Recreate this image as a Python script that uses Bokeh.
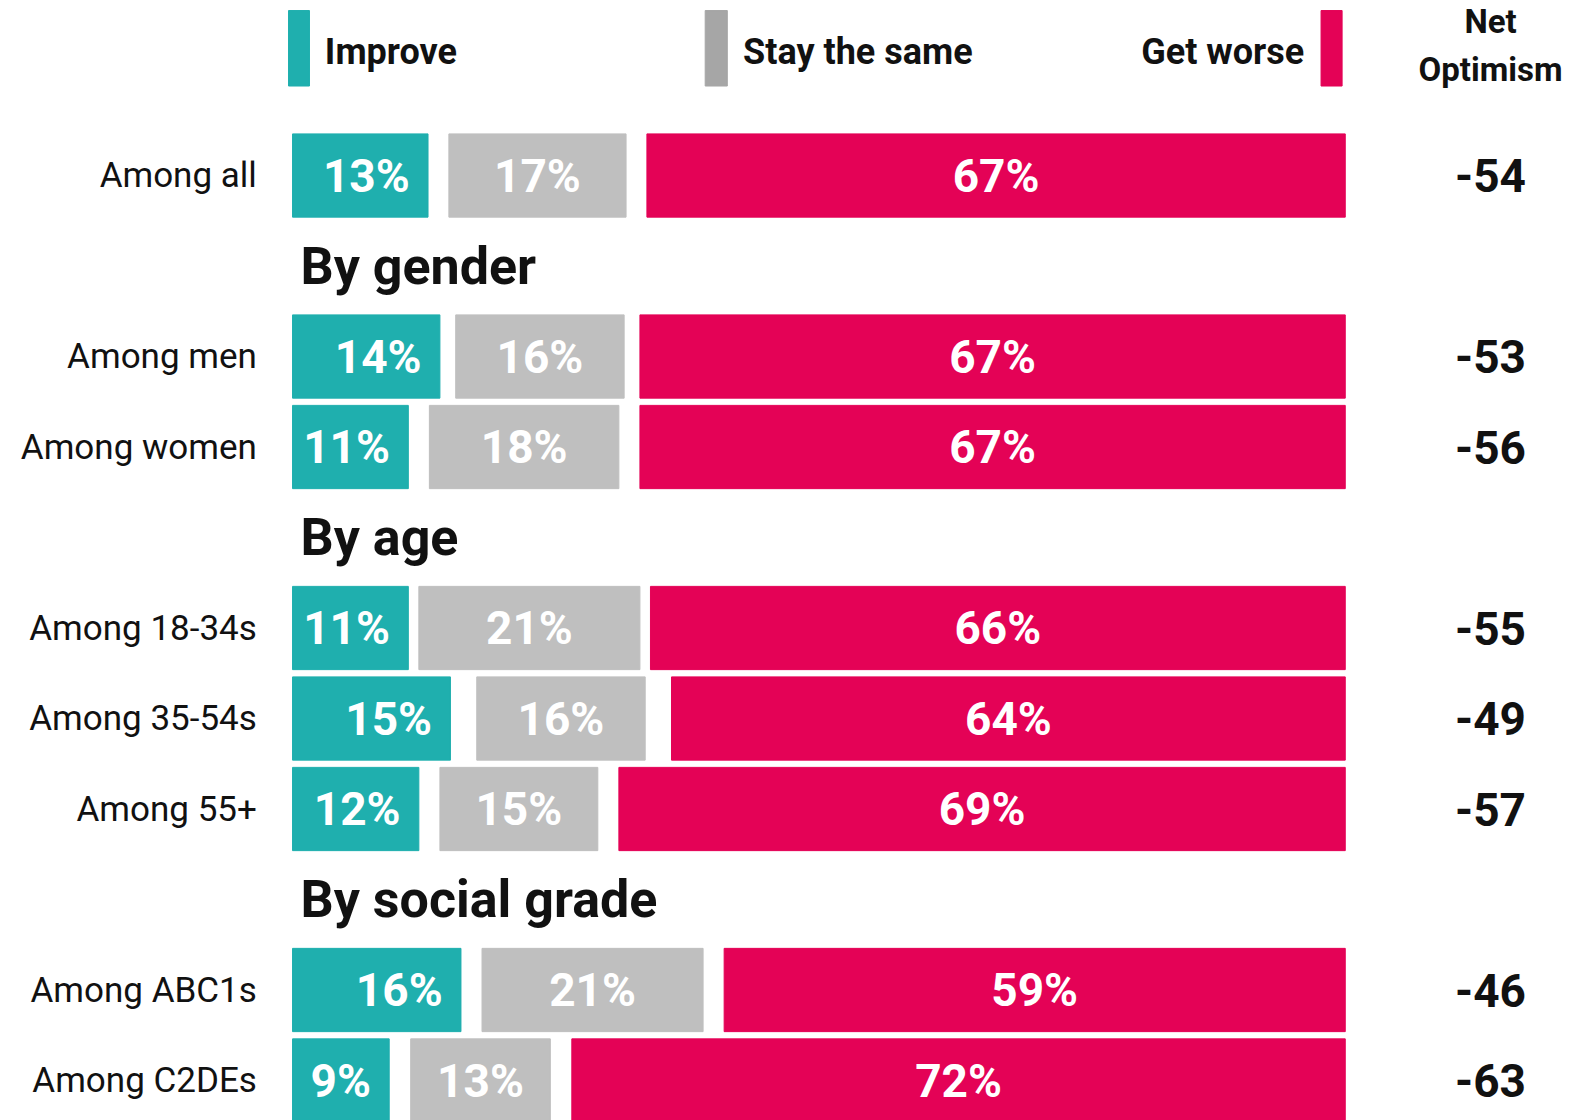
from bokeh.plotting import figure
from bokeh.models import Range1d, ColumnDataSource
from bokeh.core.properties import value
from bokeh.embed import file_html
from bokeh.resources import INLINE

# ---------------- data ----------------
categories = ["Among all", "Among men", "Among women", "Among 18-34s",
              "Among 35-54s", "Among 55+", "Among ABC1s", "Among C2DEs"]
groups = ["", "By gender", "By gender", "By age", "By age", "By age",
          "By social grade", "By social grade"]
improve = [13, 14, 11, 11, 15, 12, 16, 9]
same = [17, 16, 18, 21, 16, 15, 21, 13]
worse = [67, 67, 67, 66, 64, 69, 59, 72]
dont_know = [4, 3, 4, 2, 5, 4, 4, 4]
net = [-54, -53, -56, -55, -49, -57, -46, -63]
legend_labels = ["Improve", "Stay the same", "Get worse"]
net_title = ["Net", "Optimism"]

TEAL = "#1FAFAE"
GRAY = "#BFBFBF"
GRAY_LEG = "#A6A6A6"
RED = "#E40256"
FONT = value("Roboto")

# ---------------- layout (slots) ----------------
slots, header_slots, header_text = [], [], []
s = 0
prev = ""
for g in groups:
    if g and g != prev:
        header_slots.append(s)
        header_text.append(g)
        s += 1
    slots.append(s)
    s += 1
    prev = g

t_l, t_r, g_l, g_r, r_l, r_r = [], [], [], [], [], []
for i_, s_, w_, d_ in zip(improve, same, worse, dont_know):
    k = 100.0 / (i_ + s_ + w_ + d_)
    t_l.append(0.0)
    t_r.append(i_ * k)
    g_l.append(i_ * k + d_ * k / 2)
    g_r.append(i_ * k + d_ * k / 2 + s_ * k)
    r_l.append(100.0 - w_ * k)
    r_r.append(100.0)

src = ColumnDataSource(dict(
    y=slots, cat=categories, t_l=t_l, t_r=t_r, g_l=g_l, g_r=g_r, r_l=r_l, r_r=r_r,
    t_lab=[f"{v}%" for v in improve], g_lab=[f"{v}%" for v in same],
    r_lab=[f"{v}%" for v in worse], net=[str(v) for v in net],
    t_x=[r - 1.74 for r in t_r], g_x=[(a + b) / 2 for a, b in zip(g_l, g_r)],
    r_x=[(a + b) / 2 for a, b in zip(r_l, r_r)],
    lab_x=[-3.39] * len(slots), net_x=[113.8] * len(slots),
))

p = figure(width=1595, height=1120, output_backend="svg", toolbar_location=None,
           x_range=Range1d(-27.74, 123.77), y_range=Range1d(10.442, -1.934),
           min_border=0, outline_line_color=None)
p.axis.visible = False
p.grid.visible = False
p.background_fill_color = "white"
p.border_fill_color = "white"

H = 0.92
p.hbar(y="y", left="t_l", right="t_r", height=H, color=TEAL, source=src)
p.hbar(y="y", left="g_l", right="g_r", height=H, color=GRAY, source=src)
p.hbar(y="y", left="r_l", right="r_r", height=H, color=RED, source=src)

p.text(x="t_x", y="y", text="t_lab", source=src, text_font=FONT, text_font_style="bold",
       text_font_size="46px", text_color="white", text_align="right", text_baseline="middle")
p.text(x="g_x", y="y", text="g_lab", source=src, text_font=FONT, text_font_style="bold",
       text_font_size="46px", text_color="white", text_align="center", text_baseline="middle")
p.text(x="r_x", y="y", text="r_lab", source=src, text_font=FONT, text_font_style="bold",
       text_font_size="46px", text_color="white", text_align="center", text_baseline="middle")

p.text(x="lab_x", y="y", text="cat", source=src, text_font=FONT,
       text_font_size="35px", text_color="#111111", text_align="right", text_baseline="middle")
p.text(x="net_x", y="y", text="net", source=src, text_font=FONT, text_font_style="bold",
       text_font_size="46px", text_color="#111111", text_align="center", text_baseline="middle")

# section headers
p.text(x=[0.76] * len(header_slots), y=header_slots, text=header_text, text_font=FONT,
       text_font_style="bold", text_font_size="52px", text_color="#111111",
       text_align="left", text_baseline="middle")

# legend
leg_y0, leg_y1 = -1.823, -0.989
p.quad(left=[-0.38, 39.2, 97.7], right=[1.61, 41.3, 99.7],
       bottom=[leg_y1] * 3, top=[leg_y0] * 3, color=[TEAL, GRAY_LEG, RED])
p.text(x=[3.07, 42.8], y=[-1.37, -1.37], text=legend_labels[:2], text_font=FONT,
       text_font_style="bold", text_font_size="36px", text_color="#111111",
       text_align="left", text_baseline="middle")
p.text(x=[96.1], y=[-1.37], text=legend_labels[2:], text_font=FONT,
       text_font_style="bold", text_font_size="36px", text_color="#111111",
       text_align="right", text_baseline="middle")
p.text(x=[113.8, 113.8], y=[-1.70, -1.171], text=net_title, text_font=FONT,
       text_font_style="bold", text_font_size="33px", text_color="#111111",
       text_align="center", text_baseline="middle")

open("out.html", "w").write(file_html(p, INLINE))
